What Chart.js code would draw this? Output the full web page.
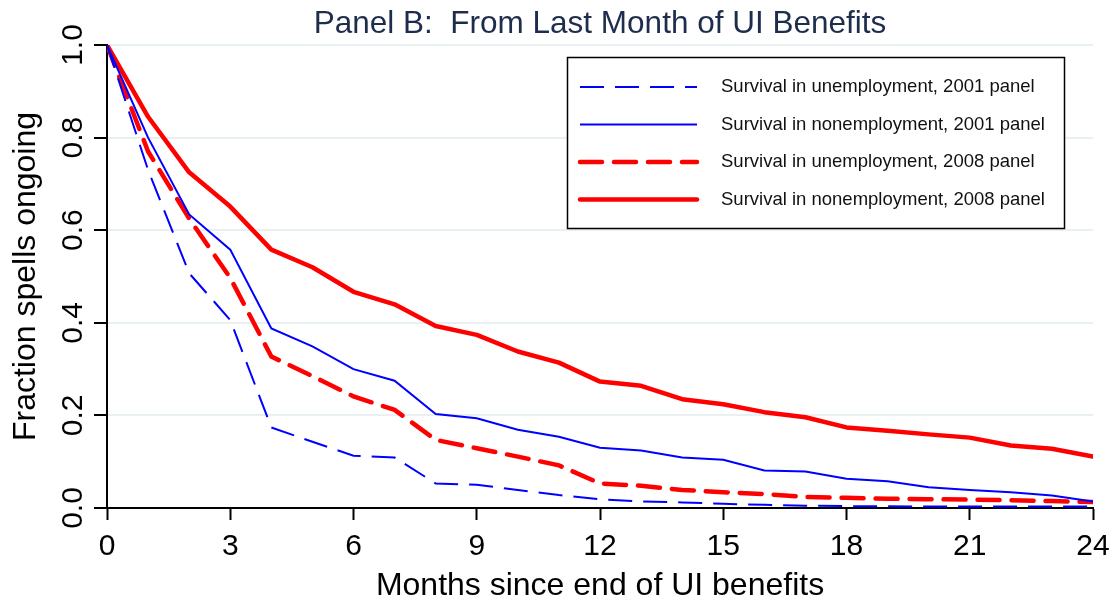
<!DOCTYPE html>
<html>
<head>
<meta charset="utf-8">
<script src="https://cdn.jsdelivr.net/npm/chart.js@4/dist/chart.umd.min.js"></script>
<style>
  body { margin: 0; background: #fff; }
  canvas { display: block; }
</style>
</head>
<body>
<canvas id="survChart" width="1119" height="602"></canvas>
<script>
// valores (fração de episódios em curso)
const months = [0,1,2,3,4,5,6,7,8,9,10,11,12,13,14,15,16,17,18,19,20,21,22,23,24];
const yTicks = [0, 0.2, 0.4, 0.6, 0.8, 1.0];

const unemp2001  = [1.0,0.73,0.507,0.406,0.174,0.143,0.113,0.109,0.053,0.050,0.039,0.028,0.019,0.014,0.012,0.009,0.007,0.005,0.004,0.004,0.003,0.003,0.003,0.003,0.003];
const nonemp2001 = [1.0,0.80,0.634,0.558,0.388,0.349,0.300,0.275,0.203,0.194,0.169,0.154,0.130,0.124,0.109,0.104,0.081,0.079,0.063,0.058,0.045,0.039,0.034,0.027,0.014];
const unemp2008  = [1.0,0.77,0.625,0.497,0.327,0.285,0.241,0.212,0.147,0.129,0.111,0.092,0.053,0.048,0.039,0.034,0.030,0.024,0.022,0.020,0.019,0.018,0.017,0.015,0.013];
const nonemp2008 = [1.0,0.845,0.725,0.651,0.558,0.520,0.467,0.440,0.393,0.374,0.338,0.314,0.273,0.264,0.235,0.224,0.207,0.196,0.174,0.167,0.159,0.152,0.135,0.128,0.111];

const FONT = '"Liberation Sans", Arial, sans-serif';

// titulo, rotulos do eixo y (rodados) e legenda com caixa
const extras = {
  id: "extras",
  afterDraw(chart) {
    const ctx = chart.ctx;
    const area = chart.chartArea;
    const ys = chart.scales.y;
    ctx.save();

    ctx.fillStyle = "#1f2d4d";
    ctx.font = "31.5px " + FONT;
    ctx.textAlign = "center";
    ctx.textBaseline = "alphabetic";
    ctx.fillText("Panel B:  From Last Month of UI Benefits", (area.left + area.right) / 2, 33);

    ctx.fillStyle = "#000";
    ctx.font = "30px " + FONT;
    yTicks.forEach(v => {
      ctx.save();
      ctx.translate(82, ys.getPixelForValue(v));
      ctx.rotate(-Math.PI / 2);
      ctx.fillText(v.toFixed(1), 0, 0);
      ctx.restore();
    });

    ctx.font = "32px " + FONT;
    ctx.save();
    ctx.translate(35, (area.top + area.bottom) / 2);
    ctx.rotate(-Math.PI / 2);
    ctx.fillText("Fraction spells ongoing", 0, 0);
    ctx.restore();

    // legenda
    ctx.fillStyle = "#fff";
    ctx.fillRect(567, 57, 497, 171);
    ctx.strokeStyle = "#000";
    ctx.lineWidth = 1.5;
    ctx.strokeRect(567.5, 57.5, 497, 171);
    ctx.font = "18.5px " + FONT;
    ctx.textAlign = "left";
    ctx.textBaseline = "middle";
    chart.data.datasets.forEach((ds, i) => {
      const y = 87 + i * 37.5;
      ctx.save();
      ctx.strokeStyle = ds.borderColor;
      ctx.lineWidth = ds.borderWidth;
      ctx.lineCap = ds.borderCapStyle || "butt";
      ctx.setLineDash(ds.borderDash || []);
      ctx.beginPath();
      ctx.moveTo(580, y);
      ctx.lineTo(697, y);
      ctx.stroke();
      ctx.restore();
      ctx.fillStyle = "#111";
      ctx.fillText(ds.label, 721, y);
    });
    ctx.restore();
  }
};

new Chart(document.getElementById("survChart"), {
  type: "line",
  data: {
    labels: months,
    datasets: [{
      label: "Survival in unemployment, 2001 panel",
      data: unemp2001,
      borderColor: "#0000ff",
      borderWidth: 2,
      borderDash: [24, 11]
    },{
      label: "Survival in nonemployment, 2001 panel",
      data: nonemp2001,
      borderColor: "#0000ff",
      borderWidth: 2
    },{
      label: "Survival in unemployment, 2008 panel",
      data: unemp2008,
      borderColor: "#ff0000",
      borderWidth: 4.5,
      borderDash: [22, 12],
      borderCapStyle: "round"
    },{
      label: "Survival in nonemployment, 2008 panel",
      data: nonemp2008,
      borderColor: "#ff0000",
      borderWidth: 4.5,
      borderCapStyle: "round",
      borderJoinStyle: "round"
    }]
  },
  options: {
    responsive: false,
    animation: false,
    devicePixelRatio: 1,
    layout: { padding: { left: 0, top: 45, right: 26, bottom: 0 } },
    elements: { point: { radius: 0 }, line: { tension: 0 } },
    plugins: { legend: { display: false }, title: { display: false }, tooltip: { enabled: false } },
    scales: {
      x: {
        type: "linear",
        min: 0,
        max: 24,
        ticks: { stepSize: 3, color: "#000", font: { family: FONT, size: 30 }, padding: 9, maxRotation: 0 },
        grid: { drawOnChartArea: false, drawTicks: true, tickLength: 12, tickColor: "#000", tickWidth: 2 },
        border: { color: "#000", width: 2 },
        title: { display: true, text: "Months since end of UI benefits", color: "#000",
                 font: { family: FONT, size: 32, lineHeight: 1.0 }, padding: { top: 0, bottom: 0 } },
        afterFit(scale) { scale.height = 94; }
      },
      y: {
        min: 0,
        max: 1,
        ticks: { stepSize: 0.2, display: false },
        grid: { color: "#e9f0f2", lineWidth: 2, tickLength: 13, tickColor: "#000", tickWidth: 2 },
        border: { color: "#000", width: 2 },
        afterFit(scale) { scale.width = 107; }
      }
    }
  },
  plugins: [extras]
});
</script>
</body>
</html>
